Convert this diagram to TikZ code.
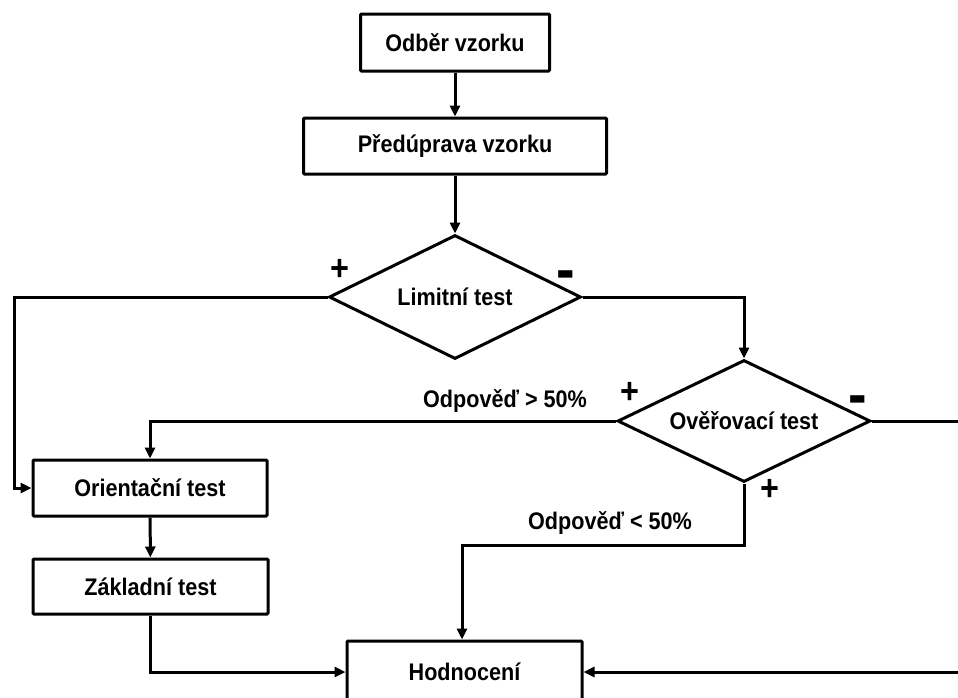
\documentclass[tikz,border=0pt]{standalone}
\usepackage{fontspec}
\setmainfont{Liberation Sans}[FakeStretch=0.9]
\usetikzlibrary{shapes.geometric,arrows.meta}
\begin{document}
\begin{tikzpicture}[x=1pt,y=-1pt,
  txt/.style={font=\bfseries\fontsize{24}{28}\selectfont},
  box/.style={txt, draw, line width=3pt, rectangle, rounded corners=1pt, inner sep=0pt},
  dec/.style={txt, draw, diamond, line width=3pt, inner sep=0pt, aspect=2},
  line/.style={line width=3pt},
  conn/.style={line width=3pt, -{Triangle[length=11pt,width=10pt]}},
  lbl/.style={txt, inner sep=0pt},
  plus/.style={font=\bfseries\fontsize{36}{36}\selectfont, inner sep=0pt},
  minus/.style={font=\bfseries\fontsize{62}{62}\selectfont, inner sep=0pt}
]
\useasboundingbox (0,0) rectangle (958,697);
\clip (0,0) rectangle (958,697);

\node[box, minimum width=189pt, minimum height=57pt] (odber) at (455,42.5) {Odběr vzorku};
\node[box, minimum width=303pt, minimum height=56pt] (predup) at (455,146) {Předúprava vzorku};
\node[dec, minimum width=252pt, minimum height=124pt] (limit) at (455,297) {Limitní test};
\node[dec, minimum width=253pt, minimum height=122pt] (over) at (744,421) {Ověřovací test};
\node[box, minimum width=234pt, minimum height=56pt] (orient) at (150,488) {Orientační test};
\node[box, minimum width=235pt, minimum height=55pt] (zakl) at (150.5,586.5) {Základní test};
\node[box, minimum width=235pt, minimum height=62pt] (hod) at (464.5,672) {Hodnocení};

\coordinate (c1) at (14,297);
\coordinate (c2) at (462,545);
\coordinate (e1) at (962,421);
\coordinate (e2) at (962,672);

\draw[conn] (odber) -- (predup);
\draw[conn] (predup) -- (limit);
\draw[conn] (limit.west) -- (c1) |- (orient.west);
\draw[conn] (limit.east) -| (over.north);
\draw[conn] (over.west) -| (orient.north);
\draw[line] (over.east) -- (e1);
\draw[conn] (over.south) |- (c2) -- (c2 |- hod.north);
\draw[conn] (orient) -- (zakl);
\draw[conn] (zakl.south) |- (hod.west);
\draw[conn] (e2) -- (hod.east);

\node[plus] (p1) at (340,270) {+};
\node[minus] (m1) at (566,281) {-};
\node[plus] (p2) at (630,393) {+};
\node[minus] (m2) at (858,406) {-};
\node[plus] (p3) at (770,490) {+};
\node[lbl] (l1) at (505,401) {Odpověď > 50\%};
\node[lbl] (l2) at (610,523) {Odpověď < 50\%};
\end{tikzpicture}
\end{document}
